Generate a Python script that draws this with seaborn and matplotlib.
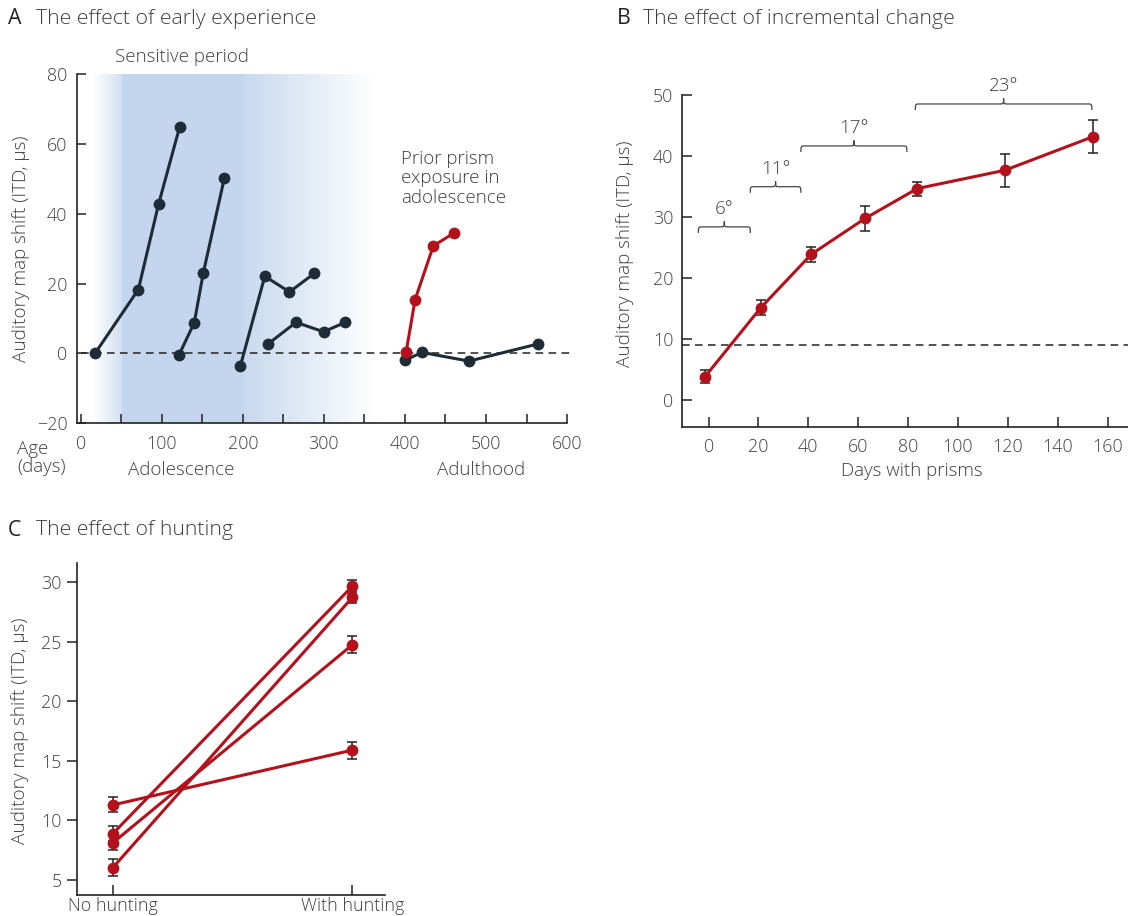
import numpy as np
import pandas as pd
import matplotlib
matplotlib.use("Agg")
import matplotlib.pyplot as plt
from matplotlib.path import Path
from matplotlib.patches import PathPatch
import seaborn as sns

# ---------------- data ----------------
# Panel A: age (days) vs auditory map shift (ITD, us)
ages_1 = [17.5, 71, 96, 122]
shift_1 = [0, 18.3, 42.8, 64.9]
ages_2 = [121, 140, 151, 177]
shift_2 = [-0.5, 8.8, 22.9, 50.1]
ages_3 = [197, 227, 257.5, 288]
shift_3 = [-3.5, 22.1, 17.6, 22.9]
ages_4 = [231, 265.5, 299.5, 326.5]
shift_4 = [2.7, 8.9, 6.2, 8.9]
ages_adult = [400.5, 421, 479, 564]
shift_adult = [-1.9, 0.3, -2.2, 2.7]
ages_prior = [401.5, 412.5, 435, 460]
shift_prior = [0.5, 15.4, 30.8, 34.4]

# Panel B: days with prisms vs shift, with error bars
days_b = [-1.4, 20.9, 41.2, 62.8, 83.7, 118.8, 154]
shift_b = [3.8, 15.1, 23.9, 29.8, 34.7, 37.7, 43.2]
err_b = [1.05, 1.2, 1.25, 2.0, 1.15, 2.7, 2.7]
baseline_b = 9.0
bracket_labels = ["6°", "11°", "17°", "23°"]
bracket_start = [-4.1, 16.7, 37.0, 82.9]
bracket_end = [16.7, 37.0, 79.5, 153.7]
bracket_level = [28.4, 35.0, 41.7, 48.6]

# Panel C: hunting
hunt_categories = ["No hunting", "With hunting"]
no_hunting = [11.3, 8.9, 8.13, 6.05]
no_hunting_err = [0.63, 0.65, 0.6, 0.71]
with_hunting = [15.9, 29.66, 24.74, 28.72]
with_hunting_err = [0.71, 0.54, 0.7, 0.5]

# ---------------- style ----------------
sns.set_theme(style="ticks")
plt.rcParams["font.family"] = ["Open Sans", "DejaVu Sans"]
plt.rcParams["font.weight"] = "light"
TXT = "#3f3f3f"
DARK = "#1d2c37"
RED = "#b3111b"
SHADE = np.array([0.765, 0.843, 0.933])
plt.rcParams.update({
    "text.color": TXT, "axes.labelcolor": TXT,
    "xtick.color": "#222222", "ytick.color": "#222222",
    "xtick.labelcolor": TXT, "ytick.labelcolor": TXT,
    "axes.edgecolor": "#222222", "axes.linewidth": 1.2,
    "axes.labelweight": "light",
})

W, H = 1128, 916
fig = plt.figure(figsize=(W / 100, H / 100), dpi=100)


def fx(px):
    return px / W


def fy(py):
    return 1 - py / H


TICK_FS = 12.9
LAB_FS = 13.6
TITLE_FS = 15.3
ANN_FS = 13.5

# ---------------- panel A ----------------
axA = fig.add_axes([0.0682, 0.5379, 0.4345, 0.3813])
axA.set_xlim(-4.8, 600)
axA.set_ylim(-20, 80)

# sensitive period shading (horizontal gradient)
xs = np.linspace(-4.8, 600, 1200)
alpha = np.interp(xs, [15, 50, 51, 199, 200, 365], [0.0, 0.75, 1.0, 1.0, 0.92, 0.0])
img = np.zeros((2, xs.size, 4))
img[..., :3] = SHADE
img[..., 3] = alpha
axA.imshow(img, extent=[-4.8, 600, -20, 80], aspect="auto", origin="lower", zorder=0,
           interpolation="bilinear")

axA.hlines(0, 0, 606, colors="#222222", linestyles=(0, (5, 3.5)), linewidth=1.1, zorder=1,
           clip_on=False)

groups = [(ages_1, shift_1, DARK), (ages_2, shift_2, DARK), (ages_3, shift_3, DARK),
          (ages_4, shift_4, DARK), (ages_adult, shift_adult, DARK), (ages_prior, shift_prior, RED)]
for xa, ya, col in groups:
    df = pd.DataFrame({"age": xa, "shift": ya})
    sns.lineplot(data=df, x="age", y="shift", ax=axA, color=col, marker="o", markersize=8.5,
                 markeredgewidth=0, linewidth=2.2, sort=False, estimator=None, zorder=3)

axA.set_xticks(np.arange(0, 601, 100))
axA.set_xticks(np.arange(50, 600, 100), minor=True)
axA.set_yticks(np.arange(-20, 81, 20))
axA.tick_params(axis="both", which="both", direction="in", length=6.5, width=1.1,
                labelsize=TICK_FS, pad=7)
axA.tick_params(axis="x", which="both", pad=8.5)
axA.set_xlabel("")
axA.set_ylabel("Auditory map shift (ITD, µs)", fontsize=LAB_FS)
axA.yaxis.set_label_coords(-0.096, 0.5)
sns.despine(ax=axA)
axA.spines["left"].set_bounds(-20, 80)

fig.text(fx(8), fy(19), "A", fontsize=TITLE_FS, va="center", ha="left", color="#222222",
         fontweight="normal")
fig.text(fx(36), fy(19), "The effect of early experience", fontsize=TITLE_FS, va="center", ha="left")
fig.text(fx(182), fy(57), "Sensitive period", fontsize=ANN_FS, va="center", ha="center")
fig.text(fx(401), fy(150), "Prior prism\nexposure in\nadolescence", fontsize=ANN_FS, va="top",
         ha="left", linespacing=1.1)
fig.text(fx(17), fy(440), "Age\n(days)", fontsize=ANN_FS, va="top", ha="left", linespacing=1.0)
fig.text(fx(181), fy(470), "Adolescence", fontsize=ANN_FS, va="center", ha="center")
fig.text(fx(481), fy(470), "Adulthood", fontsize=ANN_FS, va="center", ha="center")

# ---------------- panel B ----------------
axB = fig.add_axes([0.605, 0.5338, 0.3946, 0.362])
axB.set_xlim(-10.5, 168)
axB.set_ylim(-4.5, 50)
axB.axhline(baseline_b, color="#222222", linestyle=(0, (5, 3.5)), linewidth=1.1, zorder=1)
dfB = pd.DataFrame({"days": days_b, "shift": shift_b})
axB.errorbar(days_b, shift_b, yerr=err_b, fmt="none", ecolor="#222222", elinewidth=1.1,
             capsize=3.5, capthick=1.1, zorder=2)
sns.lineplot(data=dfB, x="days", y="shift", ax=axB, color=RED, marker="o", markersize=8.5,
             markeredgewidth=0, linewidth=2.2, sort=False, estimator=None, zorder=3)


def brace(ax, x0, x1, y, dx, dy):
    xm = (x0 + x1) / 2
    verts = [(x0, y - dy), (x0, y), (x0, y), (x0 + dx, y),
             (xm - dx, y), (xm, y), (xm, y), (xm, y + dy * 0.9),
             (xm, y), (xm, y), (xm + dx, y),
             (x1 - dx, y), (x1, y), (x1, y), (x1, y - dy)]
    codes = [Path.MOVETO, Path.CURVE4, Path.CURVE4, Path.CURVE4,
             Path.LINETO, Path.CURVE4, Path.CURVE4, Path.CURVE4,
             Path.CURVE4, Path.CURVE4, Path.CURVE4,
             Path.LINETO, Path.CURVE4, Path.CURVE4, Path.CURVE4]
    ax.add_patch(PathPatch(Path(verts, codes), facecolor="none", edgecolor="#444444",
                           linewidth=0.9, clip_on=False))


for lab, x0, x1, yl in zip(bracket_labels, bracket_start, bracket_end, bracket_level):
    brace(axB, x0, x1, yl, 1.8, 1.0)
    axB.text((x0 + x1) / 2, yl + 1.5, lab, fontsize=ANN_FS, ha="center", va="bottom")

axB.set_xticks(np.arange(0, 161, 20))
axB.set_yticks(np.arange(0, 51, 10))
axB.tick_params(axis="both", direction="in", length=7, width=1.1, labelsize=TICK_FS, pad=6.5)
axB.tick_params(axis="x", pad=8)
axB.set_xlabel("Days with prisms", fontsize=ANN_FS)
axB.xaxis.set_label_coords(0.515, -0.105)
axB.set_ylabel("Auditory map shift (ITD, µs)", fontsize=LAB_FS)
axB.yaxis.set_label_coords(-0.109, 0.523)
sns.despine(ax=axB)
axB.spines["left"].set_bounds(-4.5, 50)

fig.text(fx(617), fy(19), "B", fontsize=TITLE_FS, va="center", ha="left", color="#222222",
         fontweight="normal")
fig.text(fx(643), fy(19), "The effect of incremental change", fontsize=TITLE_FS, va="center",
         ha="left")

# ---------------- panel C ----------------
axC = fig.add_axes([0.0683, 0.0234, 0.273, 0.362])
axC.set_xlim(-0.15, 1.136)
axC.set_ylim(3.78, 31.6)
rows = []
for i, (a, b) in enumerate(zip(no_hunting, with_hunting)):
    rows.append({"bird": i, "cond": 0, "shift": a})
    rows.append({"bird": i, "cond": 1, "shift": b})
dfC = pd.DataFrame(rows)
axC.errorbar([0] * len(no_hunting), no_hunting, yerr=no_hunting_err, fmt="none",
             ecolor="#222222", elinewidth=1.1, capsize=3.5, capthick=1.1, zorder=2)
axC.errorbar([1] * len(with_hunting), with_hunting, yerr=with_hunting_err, fmt="none",
             ecolor="#222222", elinewidth=1.1, capsize=3.5, capthick=1.1, zorder=2)
sns.lineplot(data=dfC, x="cond", y="shift", units="bird", estimator=None, ax=axC, color=RED,
             marker="o", markersize=8.5, markeredgewidth=0, linewidth=2.2, sort=False, zorder=3)
axC.set_xticks([0, 1])
axC.set_xticklabels(hunt_categories)
axC.set_yticks(np.arange(5, 31, 5))
axC.tick_params(axis="x", direction="in", length=7, width=1.1, labelsize=TICK_FS, pad=2.0)
axC.tick_params(axis="y", direction="out", length=7, width=1.1, labelsize=TICK_FS, pad=4)
axC.set_xlabel("")
axC.set_ylabel("Auditory map shift (ITD, µs)", fontsize=LAB_FS)
axC.yaxis.set_label_coords(-0.156, 0.493)
sns.despine(ax=axC)

fig.text(fx(8), fy(530), "C", fontsize=TITLE_FS, va="center", ha="left", color="#222222",
         fontweight="normal")
fig.text(fx(36), fy(530), "The effect of hunting", fontsize=TITLE_FS, va="center", ha="left")

fig.savefig("out.png", dpi=100)
